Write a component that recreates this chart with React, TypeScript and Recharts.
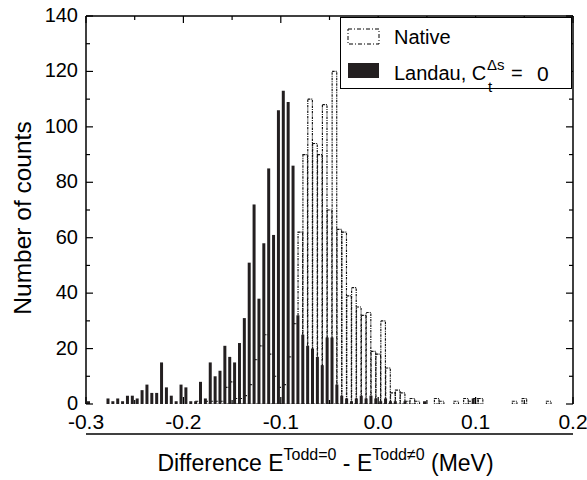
import React from 'react';
import { BarChart, Bar, XAxis, YAxis, ReferenceLine, Legend, Label } from 'recharts';

const FONT = '"Liberation Sans", Arial, Helvetica, sans-serif';
const INK = '#000';
const LANDAU_FILL = '#231f20';

// histogram bins: 100 bins of width 0.005 from -0.3 to 0.2
const BIN_START = -0.2975;
const BIN_WIDTH = 0.005;

// counts per bin (10 bins per row)
const LANDAU = [
  1, 0, 0, 0, 2, 1, 2, 1, 3, 3,
  2, 5, 7, 4, 4, 15, 6, 3, 1, 7,
  6, 1, 1, 8, 2, 15, 10, 12, 21, 17,
  15, 22, 31, 51, 72, 38, 58, 85, 61, 106,
  113, 109, 86, 32, 25, 21, 20, 17, 14, 24,
  24, 7, 3, 2, 1, 2, 3, 2, 3, 2,
  1, 2, 1, 1, 0, 1, 0, 0, 0, 1,
  0, 0, 0, 0, 0, 0, 0, 0, 0, 2,
  0, 0, 0, 0, 0, 0, 0, 0, 0, 0,
  0, 0, 0, 0, 0, 0, 0, 0, 0, 0,
];

const NATIVE = [
  0, 0, 0, 0, 0, 0, 0, 0, 0, 0,
  0, 0, 0, 0, 0, 0, 0, 0, 0, 0,
  0, 0, 1, 0, 1, 1, 1, 1, 6, 8,
  2, 2, 3, 7, 16, 21, 25, 18, 10, 6,
  7, 17, 29, 62, 90, 110, 94, 90, 108, 70,
  120, 63, 62, 39, 42, 35, 32, 33, 19, 18,
  30, 13, 4, 5, 4, 1, 2, 1, 0, 0,
  0, 2, 1, 0, 0, 1, 0, 2, 1, 2,
  2, 0, 0, 0, 0, 0, 0, 1, 0, 2,
  0, 0, 0, 0, 1, 0, 0, 0, 0, 0,
];

const X_TICKS = [-0.3, -0.25, -0.2, -0.15, -0.1, -0.05, 0, 0.05, 0.1, 0.15, 0.2];
const X_LABELED = [-0.3, -0.2, -0.1, 0, 0.1, 0.2];
const Y_TICKS = [0, 10, 20, 30, 40, 50, 60, 70, 80, 90, 100, 110, 120, 130, 140];
const Y_LABELED = [0, 20, 40, 60, 80, 100, 120, 140];

const data = LANDAU.map((landau, i) => ({
  x: BIN_START + i * BIN_WIDTH,
  landau,
  native: NATIVE[i],
}));

const W = 587;
const H = 480;
const LEFT = 86;
const RIGHT = 573;
const TOP = 16;
const BOTTOM = 404;
const Y_AXIS_W = 60;
const X_AXIS_H = 40;

// native columns sit half a bin to the right of the Landau ones (side by side, overlapping)
const SHIFT = BIN_WIDTH / 2;
const NATIVE_COL_W = 4.6;

function XTick({ x, payload }: any) {
  const v = payload.value;
  const major = X_LABELED.includes(v);
  const len = major ? 7 : 4;
  return (
    <g>
      <line x1={x} x2={x} y1={BOTTOM} y2={BOTTOM - len} stroke={INK} strokeWidth={1.2} />
      <line x1={x} x2={x} y1={TOP} y2={TOP + len} stroke={INK} strokeWidth={1.2} />
      {major && (
        <text x={x} y={BOTTOM + 25} textAnchor="middle" fontSize={21} fontFamily={FONT} fill={INK}>
          {v.toFixed(1)}
        </text>
      )}
    </g>
  );
}

function YTick({ x, y, payload }: any) {
  const v = payload.value;
  const major = Y_LABELED.includes(v);
  const len = major ? 7 : 4;
  return (
    <g>
      <line x1={LEFT} x2={LEFT + len} y1={y} y2={y} stroke={INK} strokeWidth={1.2} />
      <line x1={RIGHT} x2={RIGHT - len} y1={y} y2={y} stroke={INK} strokeWidth={1.2} />
      {major && (
        <text x={x} y={y + 6} textAnchor="end" fontSize={20} fontFamily={FONT} fill={INK}>
          {v}
        </text>
      )}
    </g>
  );
}

// dash-dot outlined column, a little wider than what the band leaves
function NativeColumn({ x, y, width, height }: any) {
  if (!height) return null;
  const cx = x + width / 2;
  return (
    <rect
      x={cx - NATIVE_COL_W / 2}
      y={y}
      width={NATIVE_COL_W}
      height={height}
      fill="none"
      stroke="#111"
      strokeWidth={1.15}
      strokeDasharray="2.5 1 1 1"
    />
  );
}

function XTitle() {
  return (
    <text x={(LEFT + RIGHT) / 2 - 4} y={471} textAnchor="middle" fontSize={23} fontFamily={FONT} fill={INK}>
      Difference E
      <tspan fontSize={16} dy={-11}>Todd=0</tspan>
      <tspan dy={11}> - E</tspan>
      <tspan fontSize={16} dy={-11}>Todd≠0</tspan>
      <tspan dy={11}> (MeV)</tspan>
    </text>
  );
}

function YTitle() {
  return (
    <text transform="translate(31, 218) rotate(-90)" textAnchor="middle" fontSize={24.5} fontFamily={FONT} fill={INK}>
      Number of counts
    </text>
  );
}

function LegendBox() {
  const abs = (left: number, top: number): React.CSSProperties => ({ position: 'absolute', left, top, whiteSpace: 'nowrap' });
  return (
    <div
      style={{
        position: 'relative',
        width: 232,
        height: 72,
        border: '1.5px solid #000',
        boxSizing: 'border-box',
        background: '#fff',
        fontFamily: FONT,
        fontSize: 20,
        lineHeight: 1,
        color: INK,
      }}
    >
      <svg width={34} height={18} style={abs(6, 10)}>
        <rect x={1} y={1} width={31} height={15} fill="none" stroke={INK} strokeWidth={1} strokeDasharray="4 2 1 2" />
      </svg>
      <span style={abs(53, 9)}>Native</span>
      <svg width={34} height={18} style={abs(6, 44)}>
        <rect x={1} y={1} width={31} height={15} fill={LANDAU_FILL} />
      </svg>
      <span style={abs(53, 45)}>Landau, C</span>
      <span style={{ ...abs(146, 39), fontSize: 15 }}>Δs</span>
      <span style={{ ...abs(147, 61), fontSize: 15 }}>t</span>
      <span style={abs(170, 45)}>=</span>
      <span style={{ ...abs(196, 45), fontSize: 21 }}>0</span>
    </div>
  );
}

export default function App() {
  return (
    <div style={{ position: 'absolute', left: 0, top: 0, width: W, height: H, background: '#fff' }}>
      <BarChart
        width={W}
        height={H}
        data={data}
        margin={{ top: TOP, right: W - RIGHT, left: LEFT - Y_AXIS_W, bottom: H - BOTTOM - X_AXIS_H }}
        barGap={0}
        barCategoryGap={0}
      >
        <XAxis
          xAxisId="x"
          dataKey="x"
          type="number"
          domain={[-0.3, 0.2]}
          ticks={X_TICKS}
          interval={0}
          allowDataOverflow
          height={X_AXIS_H}
          tickSize={0}
          tickMargin={0}
          tickLine={false}
          tick={<XTick />}
          axisLine={{ stroke: INK, strokeWidth: 1.5 }}
        >
          <Label content={XTitle} />
        </XAxis>
        <XAxis
          xAxisId="nat"
          dataKey="x"
          type="number"
          domain={[-0.3 - SHIFT, 0.2 - SHIFT]}
          allowDataOverflow
          hide
        />
        <YAxis
          yAxisId="y"
          type="number"
          domain={[0, 140]}
          ticks={Y_TICKS}
          interval={0}
          allowDataOverflow
          width={Y_AXIS_W}
          tickSize={0}
          tickMargin={8}
          tickLine={false}
          tick={<YTick />}
          axisLine={{ stroke: INK, strokeWidth: 1.5 }}
        >
          <Label content={YTitle} />
        </YAxis>
        <ReferenceLine xAxisId="x" yAxisId="y" y={140} stroke={INK} strokeWidth={1.5} />
        <ReferenceLine xAxisId="x" yAxisId="y" x={0.2} stroke={INK} strokeWidth={1.5} />
        <Bar
          xAxisId="nat"
          yAxisId="y"
          dataKey="native"
          name="Native"
          barSize={3}
          shape={<NativeColumn />}
          isAnimationActive={false}
        />
        <Bar
          xAxisId="x"
          yAxisId="y"
          dataKey="landau"
          name="Landau"
          barSize={3}
          fill={LANDAU_FILL}
          isAnimationActive={false}
        />
        <Legend
          layout="horizontal"
          verticalAlign="middle"
          align="center"
          content={LegendBox}
          wrapperStyle={{ left: 340, top: 17, width: 232, height: 72 }}
        />
      </BarChart>
    </div>
  );
}
